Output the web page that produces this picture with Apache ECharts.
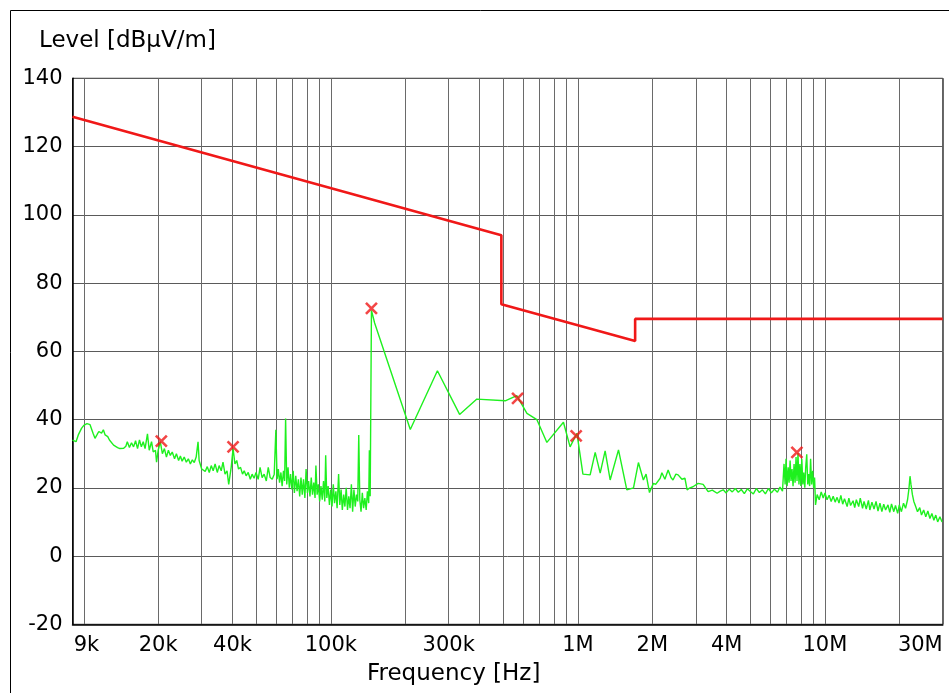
<!DOCTYPE html>
<html><head><meta charset="utf-8">
<script src="https://cdn.jsdelivr.net/npm/echarts@6/dist/echarts.min.js"></script>
<style>html,body{margin:0;padding:0;background:#fff}#c{width:949px;height:693px}</style>
</head><body><div id="c"></div>
<script>
// ---- data (frequencies in kHz, levels in dBuV/m) ----
const xTickLabels = ['9k','20k','40k','100k','300k','1M','2M','4M','10M','30M'];
const xTickKHz = [9, 20, 40, 100, 300, 1000, 2000, 4000, 10000, 30000];
const xGridKHz = [10,20,30,40,50,60,70,80,90,100,200,300,400,500,600,700,800,900,
  1000,2000,3000,4000,5000,6000,7000,8000,9000,10000,20000,30000];
const yTicks = [-20, 0, 20, 40, 60, 80, 100, 120, 140];

const limitKHz = [9, 490, 490, 1705, 1705, 30000];
const limitLevel = [128.7, 94.0, 73.8, 63.0, 69.5, 69.5];

const peakKHz = [20.6, 40.2, 146, 570, 984, 7700];
const peakLevel = [33.7, 32.0, 72.6, 46.2, 35.2, 30.4];

const traceKHz = [9.0,9.3,9.5,9.8,10.0,10.3,10.6,10.9,11.1,11.3,11.5,11.8,12.0,12.2,12.5,12.7,12.9,13.2,13.4,13.7,
14.0,14.2,14.5,14.8,15.0,15.3,15.6,15.9,16.2,16.5,16.8,17.1,17.4,17.7,18.1,18.4,18.8,19.1,19.5,19.7,
20.0,20.4,20.8,21.2,21.6,22.0,22.4,22.8,23.3,23.7,24.2,24.6,25.0,25.5,26.0,26.5,27.0,27.5,28.0,28.5,
29.0,29.3,30.0,30.5,31.0,31.6,32.2,32.8,33.4,34.0,34.7,35.3,36.0,36.6,37.3,38.0,38.6,38.9,39.5,40.2,
40.9,41.6,42.3,43.1,43.9,44.6,45.4,46.3,47.2,48.0,48.9,49.8,50.8,51.7,52.7,53.7,54.8,55.8,56.8,57.9,
59.0,59.9,60.6,61.3,62.0,62.8,63.5,64.3,65.0,65.6,66.3,67.1,67.9,68.7,69.5,70.4,71.2,72.1,73.0,73.9,
74.8,75.7,76.6,77.5,78.5,79.4,80.4,81.3,82.3,83.3,84.3,85.3,86.3,87.0,88.0,89.0,90.1,91.2,92.3,93.4,
94.5,95.3,96.3,97.5,98.7,99.9,101.1,102.3,103.5,104.8,106.0,107.5,108.7,110.0,111.3,112.7,114.0,115.4,116.8,118.2,
119.6,121.1,122.5,124.0,125.5,127.0,128.5,129.7,131.0,132.5,134.1,135.7,137.3,139.0,140.6,142.3,143.2,144.3,146.0,150.4,
209.7,270.0,332.0,390.0,508.0,566.0,622.0,682.0,749.0,874.0,930.0,991.0,1048,1121,1175,1231,1289,1351,1460,1578,
1679,1758,1841,1888,1949,2022,2064,2153,2188,2250,2319,2381,2426,2493,2545,2637,2712,2768,2842,2923,
3067,3213,3367,3500,3660,3770,3876,3981,4100,4217,4337,4460,4587,4718,4852,4977,5132,5278,5428,5583,
5742,5905,6073,6246,6424,6577,6733,6830,6900,6960,7030,7100,7160,7230,7290,7360,7430,7500,7570,7640,
7710,7780,7850,7920,7990,8060,8140,8210,8290,8360,8440,8520,8600,8670,8750,8830,8920,9000,9080,9160,
9300,9480,9660,9840,10000,10200,10400,10600,10800,11000,11200,11400,11600,11800,12000,12300,12500,12700,13000,13200,
13400,13700,13900,14200,14400,14700,15000,15200,15500,15800,16100,16400,16700,17000,17300,17600,18000,18300,18600,19000,
19300,19700,20000,20400,20800,21200,21600,21900,22100,22300,22600,22900,23300,23700,24200,24600,25100,25600,26100,26600,
27100,27600,28100,28600,29200,29800];
const traceLevel = [34.0,33.5,35.5,37.5,38.3,38.8,38.5,36.0,34.5,35.5,36.5,36.0,37.0,35.5,35.0,34.0,33.5,32.5,33.0,31.8,
31.5,32.0,31.6,32.2,33.5,31.8,33.2,32.0,33.8,31.5,34.0,32.0,33.5,31.5,35.8,31.0,33.5,30.5,31.0,27.5,
31.0,33.5,30.0,31.5,29.0,31.0,29.5,30.5,28.5,30.0,28.0,29.3,27.8,29.0,27.5,28.5,27.0,28.2,27.4,29.0,
33.5,28.0,25.5,26.0,24.8,26.2,24.5,26.5,25.0,27.0,24.5,26.5,25.0,27.5,24.0,25.0,21.0,20.5,26.0,31.5,
27.0,28.0,25.5,26.0,24.0,25.0,23.5,24.5,22.5,24.0,22.8,24.5,22.5,26.0,23.0,24.0,22.0,26.0,23.0,22.5,
24.0,37.0,22.5,25.5,21.5,24.5,20.5,25.0,22.0,40.3,21.0,26.0,20.0,24.0,19.5,25.0,18.5,23.5,19.0,22.5,
17.5,23.0,18.0,22.5,17.0,25.5,18.5,22.0,17.5,23.0,18.0,21.5,17.0,26.5,18.0,21.0,16.0,20.5,16.5,22.0,
16.0,29.5,17.0,20.5,15.0,19.5,14.5,21.0,15.5,19.0,14.0,24.0,15.0,19.5,13.5,18.0,14.5,20.0,13.5,17.5,
14.0,21.0,13.0,19.5,14.5,18.0,16.0,35.5,16.5,13.0,18.5,14.0,17.0,13.5,19.0,15.5,31.0,17.5,72.0,68.3,
37.1,54.3,41.5,46.0,45.5,47.0,41.8,40.0,33.3,39.2,32.0,36.0,24.0,23.8,30.4,24.3,30.8,22.3,31.1,19.4,
20.0,27.4,22.3,24.0,18.6,21.3,21.0,22.8,24.4,22.5,25.2,23.0,22.3,24.0,23.8,22.5,22.8,19.4,20.0,20.3,
21.3,21.0,18.9,19.3,18.4,19.0,19.4,18.5,19.6,18.8,19.8,18.7,19.5,18.3,19.7,19.0,18.2,19.8,18.6,19.4,
18.2,19.8,18.5,19.6,18.7,20.2,19.0,27.0,21.0,28.5,20.5,26.0,21.5,28.0,22.0,25.5,20.5,27.0,21.5,29.0,
22.0,30.2,21.0,27.0,20.5,28.5,21.0,24.5,20.0,26.0,29.8,21.0,24.0,20.5,28.5,21.0,25.0,20.0,23.0,15.0,
18.0,16.5,18.8,17.0,18.5,16.5,17.8,16.0,17.5,15.8,17.2,15.5,17.8,15.2,16.8,14.5,17.0,14.8,16.2,14.2,
16.5,14.5,17.0,14.0,16.0,13.8,16.3,13.5,15.8,13.8,16.0,13.2,15.5,13.0,15.2,13.5,15.0,12.8,15.3,13.0,
14.8,12.5,15.0,13.0,15.5,14.0,16.5,20.0,23.4,21.0,18.0,16.0,14.5,13.0,14.2,12.0,13.5,11.5,13.2,11.0,
12.5,10.5,12.0,10.0,11.5,10.0];

// ---- chart ----
const lg = k => Math.log10(k * 1000);
const FONT = 'DejaVu Sans';
const pairs = (fx, ly) => fx.map((f, i) => [lg(f), ly[i]]);
const labelVals = xTickKHz.map(lg);

const chart = echarts.init(document.getElementById('c'));
chart.setOption({
  animation: false,
  backgroundColor: '#fff',
  title: {
    text: 'Level [dBµV/m]', left: 34, top: 25,
    textStyle: {fontFamily: FONT, fontSize: 23, fontWeight: 'normal', color: '#000'}
  },
  graphic: [{
    type: 'rect', left: 8, top: 8, silent: true,
    shape: {width: 980, height: 720},
    style: {fill: 'none', stroke: '#000', lineWidth: 1}
  }],
  grid: {left: 72.5, right: 6.2, top: 78.3, bottom: 68.7, show: true,
    borderColor: '#222', borderWidth: 1, containLabel: false},
  xAxis: {
    type: 'value', min: lg(9), max: lg(30000),
    axisLine: {onZero: false, lineStyle: {color: '#000', width: 1.5}},
    axisTick: {show: false, customValues: xGridKHz.map(lg)},
    splitLine: {show: true, lineStyle: {color: '#6a6a6a', width: 1}},
    axisLabel: {
      customValues: labelVals,
      fontFamily: FONT, fontSize: 21, color: '#000', margin: 11,
      formatter: function (v) {
        let idx = 0, best = 1e9;
        labelVals.forEach((lv, i) => { const d = Math.abs(lv - v); if (d < best) { best = d; idx = i; } });
        const t = xTickLabels[idx];
        if (idx === 0) return '{l|' + t + '}';
        if (idx === xTickLabels.length - 1) return '{r|' + t + '}';
        return t;
      },
      rich: {
        l: {fontFamily: FONT, fontSize: 21, color: '#000', padding: [0, 0, 0, 28]},
        r: {fontFamily: FONT, fontSize: 21, color: '#000', padding: [0, 45, 0, 0]}
      }
    },
    name: 'Frequency [Hz]', nameLocation: 'middle', nameGap: 38,
    nameTextStyle: {fontFamily: FONT, fontSize: 23, color: '#000', padding: [0, 108, 0, 0]}
  },
  yAxis: {
    type: 'value', min: yTicks[0], max: yTicks[yTicks.length - 1], interval: 20,
    axisLine: {show: true, lineStyle: {color: '#000', width: 1.5}},
    axisTick: {show: false},
    splitLine: {show: true, lineStyle: {color: '#5a5a5a', width: 1}},
    axisLabel: {fontFamily: FONT, fontSize: 21, color: '#000', margin: 10}
  },
  series: [
    {
      name: 'Trace', type: 'line', data: pairs(traceKHz, traceLevel),
      showSymbol: false, symbol: 'none', z: 3,
      lineStyle: {color: '#1ef01e', width: 1.4}
    },
    {
      name: 'Limit', type: 'line', data: pairs(limitKHz, limitLevel),
      showSymbol: false, symbol: 'none', z: 4,
      lineStyle: {color: '#f01818', width: 2.6}
    },
    {
      name: 'Peaks', type: 'scatter', data: pairs(peakKHz, peakLevel), z: 5,
      symbol: 'path://M0,0L10,10M10,0L0,10', symbolSize: [11, 11],
      itemStyle: {color: 'rgba(0,0,0,0)', borderColor: '#f01818', borderWidth: 2.6}
    }
  ]
});
</script>
</body></html>
